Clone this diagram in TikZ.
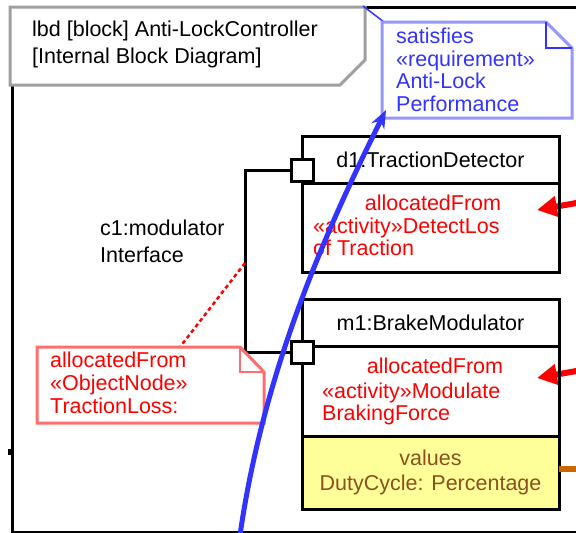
\documentclass[tikz,border=0pt]{standalone}
\usepackage{fontspec}
\setmainfont{Liberation Sans}
\usetikzlibrary{arrows.meta}
\definecolor{satblue}{RGB}{51,51,255}
\definecolor{noteblue}{RGB}{150,150,255}
\definecolor{notered}{RGB}{255,110,110}
\definecolor{valfill}{RGB}{255,255,153}
\definecolor{valtext}{RGB}{140,80,30}
\definecolor{flowbrown}{RGB}{204,102,0}
\begin{document}
\begin{tikzpicture}[x=1pt,y=-1pt,
		txt/.style={inner sep=0pt,font=\fontsize{21.5}{22}\selectfont},
		blk/.style={draw,line width=3pt,minimum width=257pt,inner sep=0pt,outer sep=0pt,anchor=north west},
		port/.style={draw,fill=white,line width=3pt,minimum size=22pt,inner sep=0pt,outer sep=0pt},
		alloc/.style={red,line width=6pt,-{Triangle[length=20pt,width=20pt]}},
		sat/.style={satblue,line width=5pt,-{Stealth[length=18pt,width=14pt]}}]
			\useasboundingbox (0,0) rectangle (576,533);
			\clip (0,0) rectangle (576,533);
			\draw [line width=3pt] (600,7) -- (12,7) -- (12,532) -- (600,532);
			\fill (8,449) rectangle (12,455);
			\draw [gray!75,line width=3pt,fill=white] (10,7) -- (365,7) -- (365,60) -- (340,85) -- (10,85) -- cycle;
			\node [txt,anchor=north west,align=left,font=\fontsize{21.5}{27}\selectfont] (title) at (32,21) {lbd [block] Anti-LockController\\{[Internal Block Diagram]}};
			\draw [satblue,line width=1.5pt] (363,6) -- (384,22);
			\draw [noteblue,line width=3pt,fill=white] (382,22) -- (546,22) -- (572,48) -- (572,118) -- (382,118) -- cycle;
			\draw [satblue,line width=2pt] (546,22) |- (572,48);
			\node [txt,anchor=north west,align=left,text=satblue,font=\fontsize{21.5}{22.5}\selectfont] (satlabel) at (396,28) {satisfies\\«requirement»\\Anti-Lock\\Performance};
			\coordinate (sattip) at (386,110);
			\coordinate (d1src) at (582,202);
			\coordinate (d1tip) at (537,210);
			\coordinate (m1src) at (582,370);
			\coordinate (m1tip) at (537,378);
			\draw [alloc] (d1src) -- (d1tip);
			\draw [alloc] (m1src) -- (m1tip);
			\node [blk,minimum height=47pt] (d1head) at (302,136) {};
			\node [blk,minimum height=89pt] (d1alloc) at (d1head.south west) {};
			\node [blk,minimum height=47pt] (m1head) at (302,299) {};
			\node [blk,minimum height=90pt] (m1alloc) at (m1head.south west) {};
			\node [blk,minimum height=73pt,fill=valfill] (m1val) at (m1alloc.south west) {};
			\draw [flowbrown,line width=6pt] ([yshift=4pt]m1val.east) -- ++(22,0);
			\node [txt] (d1name) at (d1head.center) {d1:TractionDetector};
			\node [txt,text=red] (d1from) at (433,203) {allocatedFrom};
			\node [txt,text=red,anchor=north west,align=left] (d1act) at (313,218) {«activity»DetectLos\\of Traction};
			\node [txt] (m1name) at (m1head.center) {m1:BrakeModulator};
			\node [txt,text=red] (m1from) at (435,366) {allocatedFrom};
			\node [txt,text=red,anchor=north west,align=left] (m1act) at (322,383) {«activity»Modulate\\BrakingForce};
			\node [txt,text=valtext,align=center,font=\fontsize{21.5}{25}\selectfont] (m1vals) at (m1val.center) {values\\DutyCycle: Percentage};
			\node [port] (d1port) at (302,170) {};
			\node [port] (m1port) at (302,352) {};
			\draw [line width=3pt] (d1port.west) -- ++(-46,0) -- ++(0,93) coordinate (c1tie) |- (m1port.west);
			\node [txt,anchor=north west,align=left,font=\fontsize{21.5}{27}\selectfont] (c1name) at (100,220) {c1:modulator\\Interface};
			\coordinate (notetop) at (180,347);
			\draw [red,dash pattern=on 4pt off 3pt,line width=2.5pt] (c1tie) -- (notetop);
			\draw [notered,line width=3pt,fill=white] (37,347) -- (240,347) -- (264,372) -- (264,423) -- (37,423) -- cycle;
			\draw [notered,line width=2pt] (240,347) |- (264,372);
			\node [txt,anchor=north west,align=left,text=red,font=\fontsize{21.5}{23}\selectfont] (notelabel) at (50,352) {allocatedFrom\\«ObjectNode»\\TractionLoss:};
			\coordinate (satfoot) at (240,535);
			\draw [sat] (satfoot) .. controls (262,383) and (316,250) .. (sattip);
		\end{tikzpicture}
\end{document}
